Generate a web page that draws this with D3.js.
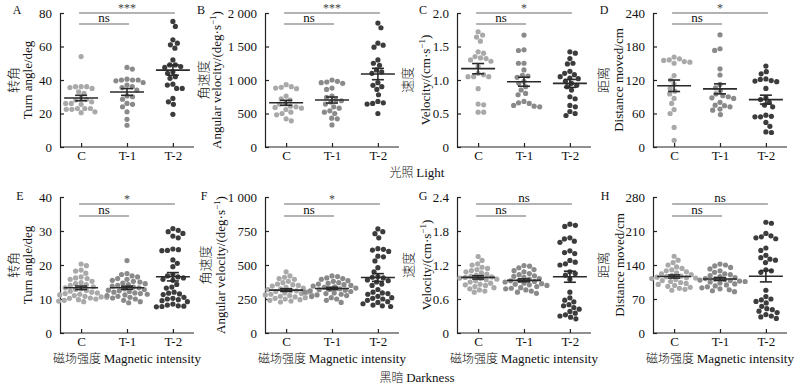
<!DOCTYPE html>
<html>
<head>
<meta charset="utf-8">
<script src="https://cdn.jsdelivr.net/npm/d3@7"></script>
<style>
body { margin: 0; background: #fff; }
text { font-family: "Liberation Serif", "Noto Sans CJK SC", serif; fill: #111; }
</style>
</head>
<body>
<div id="chart"></div>
<script>
const groups = ["C", "T-1", "T-2"];

// light: turn angle (deg)
const turnLightC  = [54, 36, 36, 35.5, 36, 35, 32, 33, 28, 29, 28.5, 27, 26, 26, 25.5, 23, 23, 22.5, 22.5, 23, 20.5, 21];
const turnLightT1 = [47.5, 46.5, 40.5, 40, 40, 39.5, 40, 38.5, 37, 36, 35.5, 34, 30, 30.5, 28.5, 26, 25.5, 24, 21, 16.5, 13];
const turnLightT2 = [75, 72, 64, 62, 61, 59, 52, 49, 49, 48, 47.5, 45, 44, 42, 41, 37.5, 37, 35, 35, 29, 27, 25.5, 19.5];
// light: angular velocity (deg/s)
const angLightC  = [930, 900, 890, 880, 870, 760, 720, 700, 650, 640, 610, 600, 590, 580, 560, 520, 500, 480, 420, 390];
const angLightT1 = [1000, 980, 970, 960, 950, 880, 860, 760, 740, 700, 690, 670, 640, 600, 580, 540, 520, 500, 430, 420, 330];
const angLightT2 = [1850, 1780, 1550, 1520, 1490, 1300, 1250, 1220, 1150, 1120, 1100, 960, 920, 900, 860, 780, 680, 660, 650, 640, 500];
// light: velocity (cm/s)
const velLightC  = [1.72, 1.67, 1.64, 1.58, 1.42, 1.40, 1.35, 1.33, 1.32, 1.30, 1.28, 1.20, 1.10, 1.08, 1.05, 1.05, 1.05, 0.87, 0.64, 0.63, 0.52, 0.52];
const velLightT1 = [1.67, 1.45, 1.44, 1.25, 1.25, 1.15, 1.07, 1.06, 1.04, 0.98, 0.95, 0.90, 0.85, 0.80, 0.78, 0.68, 0.66, 0.65, 0.62, 0.61, 0.60];
const velLightT2 = [1.42, 1.40, 1.32, 1.25, 1.24, 1.13, 1.10, 1.08, 1.05, 1.03, 1.02, 0.98, 0.95, 0.92, 0.90, 0.85, 0.75, 0.72, 0.62, 0.60, 0.53, 0.50, 0.47];
// light: distance moved (cm)
const distLightC  = [161, 158, 156, 155, 153, 152, 150, 128, 120, 112, 105, 100, 95, 87, 78, 67, 60, 35, 12];
const distLightT1 = [201, 176, 173, 140, 129, 112, 106, 101, 95, 92, 90, 88, 87, 80, 75, 74, 72, 68, 66, 58];
const distLightT2 = [145, 135, 131, 122, 121, 119, 118, 117, 105, 88, 85, 80, 75, 72, 57, 55, 54, 54, 44, 37, 27, 26];

// darkness: turn angle
const turnDarkC  = [20.3, 19.8, 18.5, 18.2, 17.6, 16.5, 16.2, 16.0, 15.8, 15.2, 14.8, 14.5, 14.2, 14.0, 13.6, 13.3, 13.0, 12.8, 12.5, 12.3, 12.0, 11.8, 11.6, 11.4, 11.2, 11.0, 10.8, 10.6, 10.5, 10.3, 10.2, 10.0, 9.8, 9.6, 9.4, 9.2];
const turnDarkT1 = [21.3, 17.5, 17.2, 16.8, 16.5, 16.0, 15.8, 15.5, 15.2, 15.0, 14.7, 14.5, 14.2, 14.0, 13.8, 13.5, 13.3, 13.0, 12.8, 12.6, 12.4, 12.2, 12.0, 11.8, 11.6, 11.4, 11.2, 11.0, 10.8, 10.5, 10.3, 10.0, 9.6, 9.2, 8.9];
const turnDarkT2 = [30.7, 30.2, 29.8, 29.3, 28.5, 28, 24.7, 24.5, 24.3, 24.2, 21.5, 20.5, 19.5, 17.2, 16.8, 16.5, 16.2, 15.8, 15.5, 14.3, 13.5, 13.2, 12, 11.7, 11.5, 11.3, 10.5, 10.2, 10, 9.8, 9.5, 9.2, 8.5, 8.2, 8, 7.9, 7.8, 7.7];
// darkness: angular velocity
const angDarkC  = [450, 420, 410, 400, 395, 380, 370, 360, 355, 350, 345, 335, 330, 325, 320, 315, 310, 305, 300, 295, 290, 285, 280, 278, 275, 270, 265, 260, 255, 250, 245, 240, 235, 228];
const angDarkT1 = [420, 415, 405, 400, 395, 385, 380, 370, 365, 360, 355, 350, 345, 340, 335, 330, 325, 320, 318, 315, 310, 305, 300, 295, 290, 285, 280, 275, 268, 260, 250, 240, 225];
const angDarkT2 = [765, 745, 730, 700, 620, 615, 610, 600, 565, 560, 530, 480, 450, 415, 410, 405, 390, 385, 375, 360, 350, 320, 300, 295, 290, 285, 270, 260, 255, 250, 240, 230, 225, 215, 205, 200, 195];
// darkness: velocity
const velDarkC  = [1.35, 1.28, 1.22, 1.20, 1.16, 1.14, 1.12, 1.10, 1.08, 1.06, 1.04, 1.02, 1.00, 0.99, 0.98, 0.97, 0.96, 0.95, 0.94, 0.92, 0.90, 0.88, 0.86, 0.85, 0.84, 0.82, 0.80, 0.78, 0.76, 0.74, 0.72];
const velDarkT1 = [1.19, 1.18, 1.15, 1.12, 1.10, 1.08, 1.05, 1.03, 1.01, 1.00, 0.98, 0.96, 0.95, 0.93, 0.92, 0.91, 0.90, 0.88, 0.87, 0.86, 0.85, 0.84, 0.82, 0.80, 0.79, 0.78, 0.76, 0.74, 0.72, 0.70];
const velDarkT2 = [1.92, 1.90, 1.88, 1.68, 1.66, 1.62, 1.60, 1.45, 1.42, 1.40, 1.28, 1.25, 1.22, 1.20, 1.08, 1.05, 1.02, 0.95, 0.72, 0.62, 0.58, 0.55, 0.50, 0.48, 0.45, 0.42, 0.38, 0.35, 0.32, 0.30, 0.28, 0.25];
// darkness: distance moved
const distDarkC  = [158, 150, 145, 140, 136, 133, 130, 128, 126, 124, 122, 120, 118, 117, 116, 115, 114, 113, 112, 110, 108, 106, 104, 102, 100, 98, 96, 94, 92, 90, 88];
const distDarkT1 = [142, 140, 138, 135, 132, 128, 125, 122, 120, 118, 116, 114, 112, 111, 110, 109, 108, 107, 106, 105, 103, 101, 99, 97, 95, 93, 91, 89, 87, 85];
const distDarkT2 = [228, 226, 205, 200, 198, 196, 194, 175, 170, 160, 155, 152, 150, 145, 130, 128, 125, 88, 75, 70, 68, 65, 62, 55, 50, 48, 45, 42, 38, 35, 33, 30];

const ticksTurnLight = [0, 20, 40, 60, 80];
const ticksAngLight = [0, 500, 1000, 1500, 2000];
const ticksVelLight = [0, 0.5, 1.0, 1.5, 2.0];
const ticksDistLight = [0, 60, 120, 180, 240];
const ticksTurnDark = [0, 10, 20, 30, 40];
const ticksAngDark = [0, 250, 500, 750, 1000];
const ticksVelDark = [0, 0.6, 1.2, 1.8, 2.4];
const ticksDistDark = [0, 70, 140, 210, 280];

const sigLight = [["ns", "***"], ["ns", "***"], ["ns", "*"], ["ns", "*"]];
const sigDark = [["ns", "*"], ["ns", "*"], ["ns", "ns"], ["ns", "ns"]];

const width = 800, height = 386;
const svg = d3.select("#chart").append("svg")
    .attr("width", width)
    .attr("height", height);

const rows = [
    {top: 13, bottom: 147, sigTop: 13, sigNs: 24},
    {top: 197, bottom: 333, sigTop: 204, sigNs: 216}
];
const dotColor = ["#a9a9a9", "#8a8a8a", "#3c3c3c"];

const thousands = v => v >= 1000 ? d3.format(",")(v).replace(",", " ") : String(v);
const oneDec = v => v === 0 ? "0" : d3.format(".1f")(v);

const panels = [
    {letter: "A", row: 0, x0: 60, ticks: ticksTurnLight, fmt: String, data: [turnLightC, turnLightT1, turnLightT2], sig: sigLight[0],
     cn: "转角", en: ["Turn angle/deg"], ldx: -43, cdx: -47, edx: -33},
    {letter: "B", row: 0, x0: 265, ticks: ticksAngLight, fmt: thousands, data: [angLightC, angLightT1, angLightT2], sig: sigLight[1],
     cn: "角速度", en: ["Angular velocity/(deg·s", "−1", ")"], ldx: -64, cdx: -62, edx: -49},
    {letter: "C", row: 0, x0: 457, ticks: ticksVelLight, fmt: oneDec, data: [velLightC, velLightT1, velLightT2], sig: sigLight[2],
     cn: "速度", en: ["Velocity/(cm·s", "−1", ")"], ldx: -34, cdx: -50, edx: -32},
    {letter: "D", row: 0, x0: 653, ticks: ticksDistLight, fmt: String, data: [distLightC, distLightT1, distLightT2], sig: sigLight[3],
     cn: "距离", en: ["Distance moved/cm"], ldx: -49, cdx: -50, edx: -35},
    {letter: "E", row: 1, x0: 60, ticks: ticksTurnDark, fmt: String, data: [turnDarkC, turnDarkT1, turnDarkT2], sig: sigDark[0],
     cn: "转角", en: ["Turn angle/deg"], ldx: -40, cdx: -47, edx: -33},
    {letter: "F", row: 1, x0: 265, ticks: ticksAngDark, fmt: thousands, data: [angDarkC, angDarkT1, angDarkT2], sig: sigDark[1],
     cn: "角速度", en: ["Angular velocity/(deg·s", "−1", ")"], ldx: -61, cdx: -60, edx: -45},
    {letter: "G", row: 1, x0: 457, ticks: ticksVelDark, fmt: oneDec, data: [velDarkC, velDarkT1, velDarkT2], sig: sigDark[2],
     cn: "速度", en: ["Velocity/(cm·s", "−1", ")"], ldx: -34, cdx: -49, edx: -31},
    {letter: "H", row: 1, x0: 653, ticks: ticksDistDark, fmt: String, data: [distDarkC, distDarkT1, distDarkT2], sig: sigDark[3],
     cn: "距离", en: ["Distance moved/cm"], ldx: -48, cdx: -50, edx: -34}
];

// simple beeswarm: put each dot as close to the centre as possible without overlap
function swarm(vals, y, d) {
    const placed = [];
    const pts = vals.map(v => ({v: v, y: y(v)})).sort((a, b) => a.y - b.y);
    let flip = 1;
    pts.forEach(p => {
        const near = placed.filter(q => Math.abs(q.y - p.y) < d);
        const cands = [0];
        near.forEach(q => {
            const dx = Math.sqrt(d * d - (q.y - p.y) ** 2);
            cands.push(q.x + dx, q.x - dx);
        });
        cands.sort((a, b) => Math.abs(a) - Math.abs(b) || flip * (a - b));
        for (const c of cands) {
            if (near.every(q => (q.x - c) ** 2 + (q.y - p.y) ** 2 >= d * d - 0.01)) { p.x = c; break; }
        }
        flip = -flip;
        placed.push(p);
    });
    return placed;
}

panels.forEach(p => {
    const r = rows[p.row];
    const g = svg.append("g");
    const x = d3.scalePoint().domain(groups).range([p.x0, p.x0 + 134]).padding(0.46);
    const y = d3.scaleLinear().domain([0, d3.max(p.ticks)]).range([r.bottom, r.top]);

    const yAxis = g.append("g")
        .attr("transform", `translate(${p.x0},0)`)
        .call(d3.axisLeft(y).tickValues(p.ticks).tickFormat(p.fmt).tickSizeInner(-4).tickSizeOuter(0).tickPadding(8));
    const xAxis = g.append("g")
        .attr("transform", `translate(0,${r.bottom})`)
        .call(d3.axisBottom(x).tickSizeInner(-4).tickSizeOuter(0).tickPadding(4));
    [yAxis, xAxis].forEach(a => {
        a.select(".domain").attr("stroke", "#222").attr("stroke-width", 1.2);
        a.selectAll(".tick line").attr("stroke", "#222").attr("stroke-width", 1.2);
        a.selectAll(".tick text").attr("font-size", 13).attr("fill", "#111")
            .attr("font-family", "Liberation Serif, serif");
    });
    xAxis.select(".domain").attr("d", `M${p.x0},0H${p.x0 + 134}`);

    // dots
    p.data.forEach((vals, i) => {
        const cx = x(groups[i]);
        g.append("g").selectAll("circle")
            .data(swarm(vals, y, 5.6))
            .join("circle")
            .attr("cx", d => cx + d.x)
            .attr("cy", d => d.y)
            .attr("r", 2.6)
            .attr("fill", dotColor[i]);
    });

    // mean and SEM
    p.data.forEach((vals, i) => {
        const cx = x(groups[i]);
        const m = d3.mean(vals);
        const se = d3.deviation(vals) / Math.sqrt(vals.length);
        const lg = g.append("g").attr("stroke", "#2a2a2a").attr("stroke-width", 1.6);
        lg.append("line").attr("x1", cx - 17).attr("x2", cx + 17).attr("y1", y(m)).attr("y2", y(m));
        lg.append("line").attr("x1", cx).attr("x2", cx).attr("y1", y(m + se)).attr("y2", y(m - se));
        [m + se, m - se].forEach(v => {
            lg.append("line").attr("x1", cx - 6).attr("x2", cx + 6).attr("y1", y(v)).attr("y2", y(v));
        });
    });

    // significance bars
    const bars = [
        {to: "T-1", y: r.sigNs, label: p.sig[0]},
        {to: "T-2", y: r.sigTop, label: p.sig[1]}
    ];
    bars.forEach(b => {
        g.append("line")
            .attr("x1", x("C") - 2).attr("x2", x(b.to) + 2)
            .attr("y1", b.y).attr("y2", b.y)
            .attr("stroke", "#9a9a9a").attr("stroke-width", 1.3);
        g.append("text")
            .attr("x", (x("C") + x(b.to)) / 2)
            .attr("y", b.label === "ns" ? b.y - 2 : b.y - 1)
            .attr("text-anchor", "middle")
            .attr("font-size", b.label === "ns" ? 13 : 12)
            .style("fill", b.label === "ns" ? "#111" : "#444")
            .text(b.label);
    });

    // panel letter
    g.append("text")
        .attr("x", p.x0 + p.ldx)
        .attr("y", p.row === 0 ? 14 : 200)
        .attr("text-anchor", "middle")
        .attr("font-size", 12)
        .text(p.letter);

    // y titles
    const midY = (r.top + r.bottom) / 2;
    g.append("text")
        .attr("transform", `translate(${p.x0 + p.cdx},${midY}) rotate(-90)`)
        .attr("text-anchor", "middle")
        .attr("dy", "0.35em")
        .attr("font-size", 13)
        .attr("font-weight", 300)
        .attr("font-family", "Noto Sans CJK SC, sans-serif")
        .text(p.cn);
    const et = g.append("text")
        .attr("transform", `translate(${p.x0 + p.edx},${midY}) rotate(-90)`)
        .attr("text-anchor", "middle")
        .attr("dy", "0.35em")
        .attr("font-size", 13);
    et.append("tspan").text(p.en[0]);
    if (p.en.length > 1) {
        et.append("tspan").attr("font-size", 9).attr("dy", "-0.5em").text(p.en[1]);
        et.append("tspan").attr("dy", "0.4em").text(p.en[2]);
    }

    if (p.row === 1) {
        const t = g.append("text")
            .attr("x", p.x0 + 67)
            .attr("y", 363)
            .attr("text-anchor", "middle")
            .attr("font-size", 13);
        t.append("tspan").attr("font-family", "Noto Sans CJK SC, sans-serif").attr("font-weight", 300).attr("font-size", 12).text("磁场强度 ");
        t.append("tspan").text("Magnetic intensity");
    }
});

// condition titles
[["光照 ", "Light", 177], ["黑暗 ", "Darkness", 382]].forEach(c => {
    const t = svg.append("text")
        .attr("x", 417)
        .attr("y", c[2])
        .attr("text-anchor", "middle")
        .attr("font-size", 13);
    t.append("tspan").attr("font-family", "Noto Sans CJK SC, sans-serif").attr("font-weight", 300).attr("font-size", 12).text(c[0]);
    t.append("tspan").text(c[1]);
});
</script>
</body>
</html>
